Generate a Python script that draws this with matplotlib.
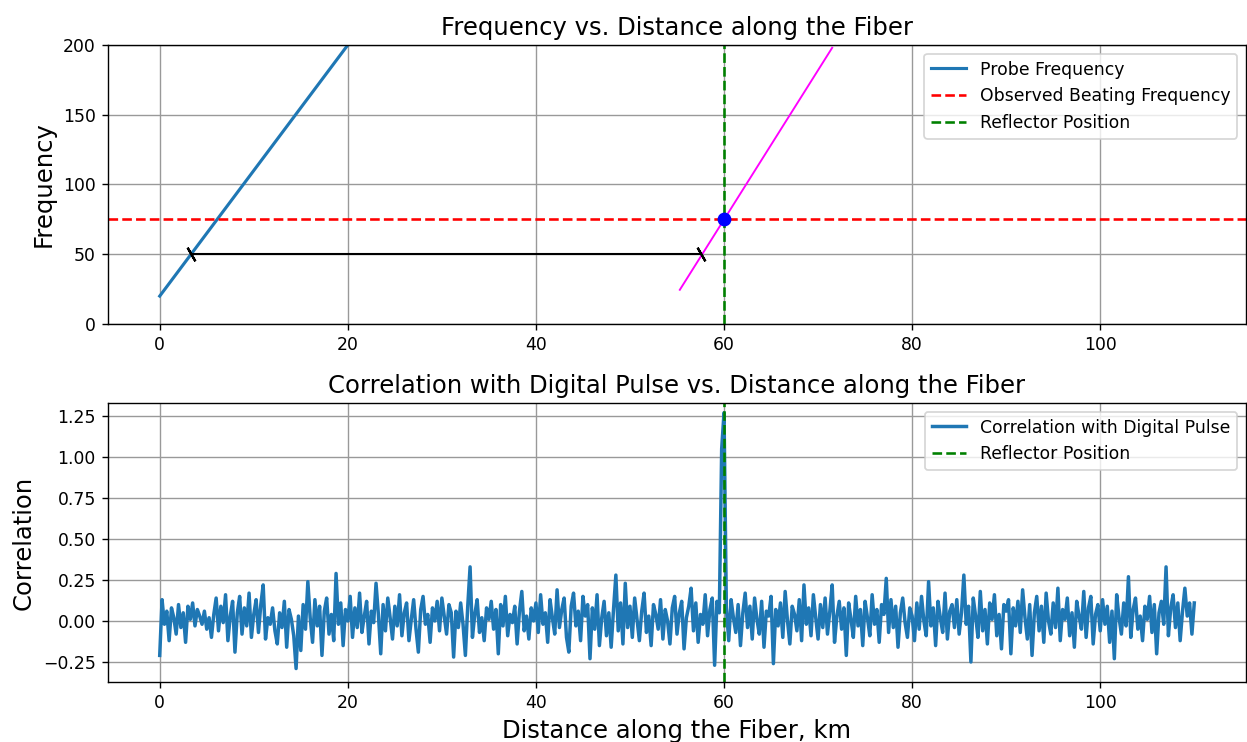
import numpy as np
import matplotlib
matplotlib.use("Agg")
import matplotlib.pyplot as plt
from matplotlib.ticker import MultipleLocator

# top panel: probe frequency sweep and the beat read-out
probe_x = [0, 110]
probe_f = [20, 1010]            # 20 + 9 per km, clipped by the y limit
shifted_x = [55.3, 71.5]
shifted_f = [24.5, 198]
beat_freq = 75
reflector_km = 60
span_x = [3.33, 57.6]
span_f = [50, 50]

# bottom panel: correlation, 0.25 km steps from 0 to 110 km
corr = [
    -0.21, 0.13, -0.02, 0.06, -0.12, 0.08, 0.02, -0.08, 0.10, -0.04, 0.05, -0.13, 0.09, 0.01, 0.11, -0.03, 0.07, 0.03, -0.02, 0.06,
    -0.05, 0.02, -0.10, 0.04, 0.14, -0.06, 0.09, -0.01, 0.16, -0.12, 0.03, 0.12, -0.19, 0.05, 0.15, -0.08, 0.08, -0.03, 0.17, -0.10,
    0.04, 0.13, -0.07, 0.10, 0.22, -0.11, 0.02, -0.02, 0.08, -0.06, -0.14, 0.05, -0.04, 0.12, -0.16, 0.07, 0.01, -0.09, -0.29, 0.03,
    -0.18, 0.10, -0.05, 0.24, 0.02, -0.13, 0.13, -0.03, 0.09, -0.21, 0.06, 0.14, -0.08, 0.04, -0.12, 0.29, -0.02, 0.11, -0.15, 0.07,
    0.00, 0.15, -0.10, 0.08, -0.04, 0.17, -0.07, 0.03, 0.12, -0.14, 0.06, -0.01, 0.23, 0.04, -0.20, 0.10, -0.06, 0.14, 0.02, -0.11,
    0.09, -0.03, 0.16, -0.09, 0.05, 0.11, -0.12, 0.01, 0.13, -0.05, -0.19, 0.07, 0.15, -0.02, 0.04, -0.13, 0.08, 0.00, 0.12, -0.06,
    0.14, 0.03, -0.08, 0.10, 0.05, -0.22, 0.06, -0.04, 0.11, -0.02, -0.21, 0.09, 0.33, -0.10, 0.04, 0.13, -0.07, 0.02, -0.12, 0.08,
    0.01, 0.12, -0.05, 0.07, -0.20, 0.10, -0.03, 0.15, -0.09, 0.04, -0.01, 0.09, -0.14, 0.06, 0.18, -0.06, 0.03, -0.11, 0.08, 0.00,
    0.11, -0.07, 0.16, -0.02, 0.05, -0.13, 0.13, 0.02, -0.08, 0.19, -0.04, 0.07, 0.14, -0.10, -0.19, 0.09, 0.17, -0.03, 0.06, -0.12,
    0.15, 0.03, 0.10, -0.23, 0.08, -0.05, 0.16, -0.15, 0.02, 0.12, -0.09, 0.05, -0.16, 0.07, 0.28, -0.06, 0.11, -0.14, 0.23, -0.04,
    0.09, -0.10, 0.14, 0.01, -0.12, 0.06, 0.17, -0.07, 0.03, -0.15, 0.10, 0.04, -0.05, 0.13, -0.11, 0.07, 0.00, -0.14, 0.08, 0.15,
    -0.08, 0.05, 0.12, -0.17, 0.02, 0.09, 0.20, -0.06, 0.11, -0.13, 0.04, -0.02, 0.16, -0.09, 0.07, 0.14, -0.27, 0.12, 0.05, 1.05,
    1.27, 0.08, -0.12, 0.13, 0.02, -0.07, 0.10, -0.15, 0.05, 0.17, -0.04, 0.09, -0.11, 0.14, 0.01, -0.08, 0.12, -0.16, 0.06, 0.03,
    0.15, -0.26, 0.07, -0.03, 0.11, -0.10, 0.18, 0.00, -0.14, 0.09, 0.04, -0.06, 0.13, -0.12, 0.22, -0.02, 0.08, -0.09, 0.16, 0.02,
    -0.11, 0.10, -0.04, 0.14, -0.08, 0.06, 0.22, -0.13, 0.03, 0.12, -0.05, 0.08, -0.21, 0.11, 0.01, -0.10, 0.15, -0.03, 0.07, -0.15,
    0.12, 0.02, -0.09, 0.16, -0.02, 0.07, -0.13, 0.10, 0.04, 0.26, -0.07, 0.13, -0.04, 0.09, -0.16, 0.05, 0.14, -0.01, -0.10, 0.08,
    0.03, -0.12, 0.11, -0.05, 0.15, 0.00, -0.09, 0.24, -0.03, 0.08, -0.15, 0.12, 0.02, -0.07, 0.17, -0.11, 0.06, 0.10, -0.04, 0.13,
    -0.08, 0.05, 0.28, -0.02, 0.09, -0.25, 0.14, 0.03, -0.10, 0.18, -0.06, 0.07, -0.14, 0.11, 0.01, 0.16, -0.09, 0.04, -0.17, 0.10,
    0.06, 0.13, -0.20, 0.08, -0.03, 0.12, -0.07, 0.19, 0.02, -0.11, 0.10, -0.21, 0.05, 0.15, -0.06, 0.09, -0.13, 0.17, 0.00, -0.08,
    0.11, -0.04, 0.20, -0.12, 0.07, 0.01, 0.14, -0.09, 0.05, -0.16, 0.12, 0.03, -0.05, 0.18, -0.10, 0.08, 0.15, -0.14, 0.04, 0.10,
    -0.06, 0.13, -0.02, 0.09, -0.13, 0.06, -0.23, 0.16, 0.02, -0.08, 0.11, -0.03, 0.27, -0.10, 0.07, 0.14, -0.05, 0.03, -0.12, 0.09,
    0.01, 0.15, -0.07, 0.10, -0.20, 0.05, 0.12, -0.02, 0.33, -0.09, 0.08, 0.16, -0.04, 0.11, -0.12, 0.06, 0.20, 0.03, 0.11, -0.08,
    0.11,
]
corr_x = np.linspace(0, 110, len(corr))

fig, (ax1, ax2) = plt.subplots(2, 1, figsize=(1247 / 124.7, 742 / 124.7), dpi=124.7)
fig.subplots_adjust(left=0.0866, right=0.9992, top=0.9394, bottom=0.0809, hspace=0.283)

# --- top panel ---
ax1.plot(probe_x, probe_f, color="#1f77b4", lw=1.8, label="Probe Frequency")
ax1.axhline(beat_freq, color="red", ls="--", lw=1.5, label="Observed Beating Frequency")
ax1.axvline(reflector_km, color="green", ls="--", lw=1.5, label="Reflector Position")
ax1.plot(shifted_x, shifted_f, color="magenta", lw=1.1)
ax1.plot([reflector_km], [beat_freq], "o", color="blue", ms=7)
ax1.plot(span_x, span_f, color="black", lw=1.2, marker=(2, 2, 30), ms=9, mew=1.3)
ax1.set_ylim(0, 200)
ax1.set_xlim(-5.5, 115.5)
ax1.yaxis.set_major_locator(MultipleLocator(50))
ax1.set_title("Frequency vs. Distance along the Fiber", fontsize=14)
ax1.set_ylabel("Frequency", fontsize=14)
ax1.grid(True, color="#999999", lw=0.8)
ax1.legend(loc="upper right", fontsize=10)

# --- bottom panel ---
ax2.plot(corr_x, corr, color="#1f77b4", lw=2.0, label="Correlation with Digital Pulse")
ax2.axvline(reflector_km, color="green", ls="--", lw=1.5, label="Reflector Position")
ax2.set_ylim(-0.372, 1.33)
ax2.set_xlim(-5.5, 115.5)
ax2.set_title("Correlation with Digital Pulse vs. Distance along the Fiber", fontsize=14)
ax2.set_xlabel("Distance along the Fiber, km", fontsize=14)
ax2.set_ylabel("Correlation", fontsize=14)
ax2.grid(True, color="#999999", lw=0.8)
ax2.legend(loc="upper right", fontsize=10)

fig.savefig("out.png", dpi=124.7)
